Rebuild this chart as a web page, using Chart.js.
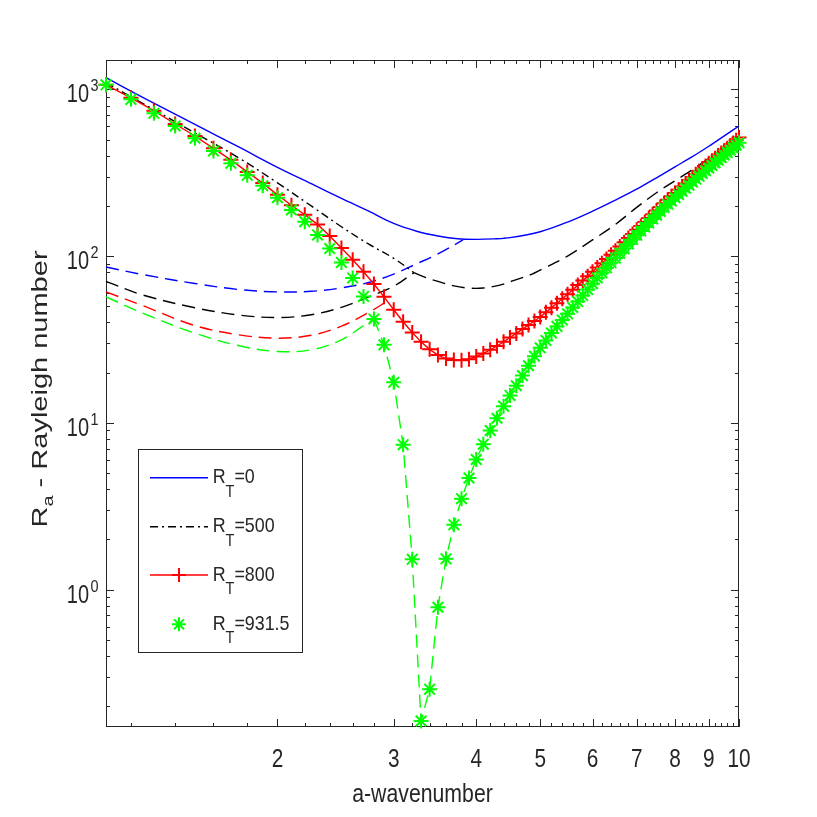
<!DOCTYPE html>
<html><head><meta charset="utf-8">
<script src="https://cdn.jsdelivr.net/npm/chart.js@4.4.1/dist/chart.umd.min.js"></script>
<style>html,body{margin:0;background:#fff}canvas{display:block}</style>
</head><body>
<canvas id="c" width="817" height="817"></canvas>
<script>
/* wavenumber grid used by the marker curves */
const aGrid=[1.1,1.2,1.3,1.4,1.5,1.6,1.7,1.8,1.9,2.0,2.1,2.2,2.3,2.4,2.5,2.6,2.7,2.8,2.9,3.0,
  3.1,3.2,3.3,3.4,3.5,3.6,3.7,3.8,3.9,4.0,4.1,4.2,4.3,4.4,4.5,4.6,4.7,4.8,4.9,5.0,
  5.1,5.2,5.3,5.4,5.5,5.6,5.7,5.8,5.9,6.0,6.1,6.2,6.3,6.4,6.5,6.6,6.7,6.8,6.9,7.0,
  7.1,7.2,7.3,7.4,7.5,7.6,7.7,7.8,7.9,8.0,8.1,8.2,8.3,8.4,8.5,8.6,8.7,8.8,8.9,9.0,
  9.1,9.2,9.3,9.4,9.5,9.6,9.7,9.8,9.9,10.0];

/* R_T = 800, solid red with + */
const ra800=[1065,890,745,620,525,443,378,320,274,233,202,177,155,132,112,95,80.5,68,57,47.7,
  40.4,34.8,30.6,27.6,25.5,24.3,23.8,23.7,24.1,25.0,26.1,27.4,28.9,30.6,32.5,34.4,36.5,38.6,40.8,43.1,
  46.0,49.0,52.2,55.5,59.0,62.9,67.0,71.3,75.8,80.5,85.5,90.7,96.2,101.8,107.7,114.0,121.0,128.2,135.8,143.7,
  151.8,160.4,169.1,178.1,187.5,197.2,207.3,217.8,228.7,239.4,250.2,261.4,272.9,284.8,297.0,309.6,322.7,335,347.5,360.2,
  373.4,386.9,400.6,414.8,429.2,443,460.7,477.5,494.7,514];

/* R_T = 931.5, green stars */
const ra9315=[1065,871,718,603,509,427,360,305,264,224,189,161,134,111,91.6,74,57.3,42,29.4,17.5,
  7.4,1.52,0.163,0.253,0.784,1.53,2.45,3.51,4.67,6.03,7.45,9.0,10.66,12.6,14.6,16.7,19.2,22.0,25.1,28.2,
  31.2,34.6,37.9,41.4,45.1,49.2,53.4,58.0,63.0,68.3,73.9,79.5,85.1,91.1,97.3,104.0,110.9,118.2,126,133.5,
  141.3,149.4,157.9,166.7,175.9,185.4,195.4,204.6,214.1,223.9,234.1,244.6,255.3,266.4,277.9,289.6,301.8,313.5,325.4,337.6,
  350.1,363.0,376.1,389.7,403.4,417.7,432.3,447.2,462.4,478];

/* R_T = 0 */
const aBlue=[1.1,1.25,1.5,1.75,2.0,2.25,2.5,2.75,3.0,3.25,3.5,3.75,4.0,4.25,4.5,5.0,5.5,6.0,6.5,7.0,7.5,8.0,8.5,9.0,9.5,10];
const raBlue=[1175,896,616,450,341,272,222,186,157,141,132,127,126,126.8,129,140,160,186,217,252,295,343,395,456,526,603];
const aBlueOsc=[1.1,1.25,1.5,1.75,2.0,2.25,2.5,2.75,3.0,3.25,3.5,3.82];
const raBlueOsc=[86,77.5,68.5,63,61,61.5,64.5,69.5,78,90,103,125];

/* R_T = 500 */
const aBlack=[1.1,1.25,1.5,1.75,2.0,2.25,2.5,2.75,3.0,3.22];
const raBlack=[1095,825,548,387,275,200,150,118,97,79.5];
const aBlackOsc=[1.1,1.25,1.5,1.75,2.0,2.25,2.5,2.75,3.0,3.22];
const raBlackOsc=[70.5,58.5,49,44.3,42.8,44.5,49.3,57,66,79.5];
const aBlackRight=[3.22,3.35,3.5,3.7,3.9,4.1,4.33,4.54,4.86,5.0,5.5,6.0,6.5,7.0,7.5,8.0,8.5,9.0,9.5,10];
const raBlackRight=[79.5,74.5,70.5,66.3,64.3,64.4,66.8,71,78,82.5,100,125,155,196,240,283,330,385,450,525];

/* lower (dashed) branches for R_T = 800 and 931.5 */
const aRedOsc=[1.1,1.25,1.5,1.75,2.0,2.25,2.5,2.75,2.93];
const raRedOsc=[61,50.5,38.3,33.7,32.2,33.5,38,46,53.5];
const aGreenOsc=[1.1,1.25,1.5,1.75,2.0,2.25,2.5,2.7,2.8];
const raGreenOsc=[57,45.5,34.5,29,26.8,27.4,31.5,38.3,42];

const xTicks=[2,3,4,5,6,7,8,9,10];
const yExps=[0,1,2,3];
const legendRT=['0','500','800','931.5'];

const FONT='"Liberation Sans", Arial, Helvetica, sans-serif';
const INK='#262626';
const BLUE='#0000ff',RED='#ff0000',GREEN='#00ff00',BLACK='#000000';
const DASH=[13,7],DASHDOT=[8,4,2,4];

const pts=(xs,ys)=>xs.map((a,i)=>({x:a,y:ys[i]}));
const iTail=aGrid.indexOf(2.8);

function tw(ctx,s,size,sx){ctx.font=size+'px '+FONT;return ctx.measureText(s).width*sx;}
function put(ctx,s,x,y,size,align,sx){
  ctx.save();ctx.translate(x,y);ctx.scale(sx,1);
  ctx.font=size+'px '+FONT;ctx.textAlign=align;ctx.textBaseline='alphabetic';
  ctx.fillStyle=INK;ctx.fillText(s,0,0);ctx.restore();
}
// runs of [text,size,baselineShift]
function rich(ctx,runs,x,y,sx){
  let cx=x;
  runs.forEach(([s,size,dy])=>{put(ctx,s,cx,y+dy,size,'left',sx);cx+=tw(ctx,s,size,sx);});
  return cx-x;
}
function plus(ctx,x,y,r,c){ctx.beginPath();ctx.moveTo(x-r,y);ctx.lineTo(x+r,y);ctx.moveTo(x,y-r);ctx.lineTo(x,y+r);ctx.strokeStyle=c;ctx.lineWidth=2;ctx.stroke();}
function star(ctx,x,y,r,c){
  ctx.beginPath();
  for(let k=0;k<4;k++){const t=k*Math.PI/4;ctx.moveTo(x-r*Math.cos(t),y-r*Math.sin(t));ctx.lineTo(x+r*Math.cos(t),y+r*Math.sin(t));}
  ctx.strokeStyle=c;ctx.lineWidth=2;ctx.stroke();
}

const axesFrame={
  id:'axesFrame',
  beforeDatasetsDraw(chart){
    const {ctx,chartArea:A,scales:{x,y}}=chart;
    ctx.save();
    ctx.strokeStyle=INK;ctx.lineWidth=1;
    ctx.strokeRect(A.left+0.5,A.top+0.5,A.right-A.left-1,A.bottom-A.top-1);
    ctx.beginPath();
    // x ticks, inward on bottom and top
    for(let v=1.2;v<10.01;v+=0.2){
      const vv=Math.round(v*10)/10;
      const major=Math.abs(vv-Math.round(vv))<1e-6;
      const L=major?8:4,px=Math.round(x.getPixelForValue(vv))+0.5;
      ctx.moveTo(px,A.bottom);ctx.lineTo(px,A.bottom-L);
      ctx.moveTo(px,A.top);ctx.lineTo(px,A.top+L);
    }
    // y ticks, inward on left and right
    for(let k=-1;k<=3;k++){
      for(let m=1;m<=9;m++){
        const v=m*Math.pow(10,k);
        if(v<0.15||v>1500)continue;
        const L=m===1?8:4,py=Math.round(y.getPixelForValue(v))+0.5;
        ctx.moveTo(A.left,py);ctx.lineTo(A.left+L,py);
        ctx.moveTo(A.right,py);ctx.lineTo(A.right-L,py);
      }
    }
    ctx.stroke();
    // tick labels
    xTicks.forEach(v=>put(ctx,String(v),x.getPixelForValue(v),767,26,'center',0.8));
    yExps.forEach(k=>{
      const py=y.getPixelForValue(Math.pow(10,k));
      put(ctx,'10',89,py+13,25,'right',0.8);
      put(ctx,String(k),90.5,py+2,17,'left',0.85);
    });
    // axis titles
    put(ctx,'a-wavenumber',(A.left+A.right)/2,801.5,25,'center',0.85);
    ctx.save();
    ctx.translate(42,389);ctx.rotate(-Math.PI/2);ctx.scale(1,0.74);
    const yRuns=[['R',29,0],['a',20,8],[' - Rayleigh number',29,0]];
    let W=0;yRuns.forEach(([s,size])=>W+=tw(ctx,s,size,1));
    rich(ctx,yRuns,-W/2,7,1);
    ctx.restore();
    ctx.restore();
  },
  afterDatasetsDraw(chart){
    const ctx=chart.ctx;
    ctx.save();
    ctx.fillStyle='#fff';ctx.fillRect(138.5,449.5,164,203);
    ctx.strokeStyle=INK;ctx.lineWidth=1;ctx.strokeRect(138.5,449.5,164,203);
    const rows=[477.7,526.7,575,624.3];
    const styles=[[BLUE,[]],[BLACK,DASHDOT],[RED,[]],[GREEN,null]];
    rows.forEach((yc,i)=>{
      const [c,dash]=styles[i];
      if(dash){ctx.beginPath();ctx.setLineDash(dash);ctx.moveTo(150,yc);ctx.lineTo(208,yc);ctx.strokeStyle=c;ctx.lineWidth=1.4;ctx.stroke();ctx.setLineDash([]);}
      if(i===2)plus(ctx,179,yc,7,RED);
      if(i===3)star(ctx,179,yc,7,GREEN);
      rich(ctx,[['R',21,0],['T',17,13.5],['='+legendRT[i],21,0]],212.7,yc+5.6,0.85);
    });
    ctx.restore();
  }
};

const line=(data,color,dash,tension)=>({data,showLine:true,borderColor:color,borderWidth:1.4,borderDash:dash,
  pointRadius:0,tension:tension,clip:false});

new Chart(document.getElementById('c'),{
  type:'scatter',
  data:{datasets:[
    {data:pts(aGrid,ra9315),showLine:false,pointStyle:'star',pointRadius:7.5,pointBorderWidth:2,
      pointBorderColor:GREEN,pointBackgroundColor:GREEN,borderColor:GREEN,clip:false},
    {data:pts(aGrid,ra800),showLine:true,borderColor:RED,borderWidth:1.4,tension:0,pointStyle:'cross',
      pointRadius:7.5,pointBorderWidth:2,pointBorderColor:RED,pointBackgroundColor:RED,clip:false},
    line(pts(aGrid.slice(iTail),ra9315.slice(iTail)),GREEN,DASH,0),
    line(pts(aGreenOsc,raGreenOsc),GREEN,DASH,0.35),
    line(pts(aRedOsc,raRedOsc),RED,DASH,0.35),
    line(pts(aBlack,raBlack),BLACK,DASHDOT,0.35),
    line(pts(aBlackOsc,raBlackOsc),BLACK,DASH,0.35),
    line(pts(aBlackRight,raBlackRight),BLACK,DASH,0.35),
    line(pts(aBlue,raBlue),BLUE,[],0.35),
    line(pts(aBlueOsc,raBlueOsc),BLUE,DASH,0.35)
  ]},
  options:{
    responsive:false,animation:false,devicePixelRatio:1,
    layout:{padding:{left:106,right:78,top:60,bottom:90}},
    plugins:{legend:{display:false},tooltip:{enabled:false}},
    scales:{
      x:{type:'logarithmic',min:1.1,max:10,display:false},
      y:{type:'logarithmic',min:0.15,max:1500,display:false}
    }
  },
  plugins:[axesFrame]
});
</script>
</body></html>
